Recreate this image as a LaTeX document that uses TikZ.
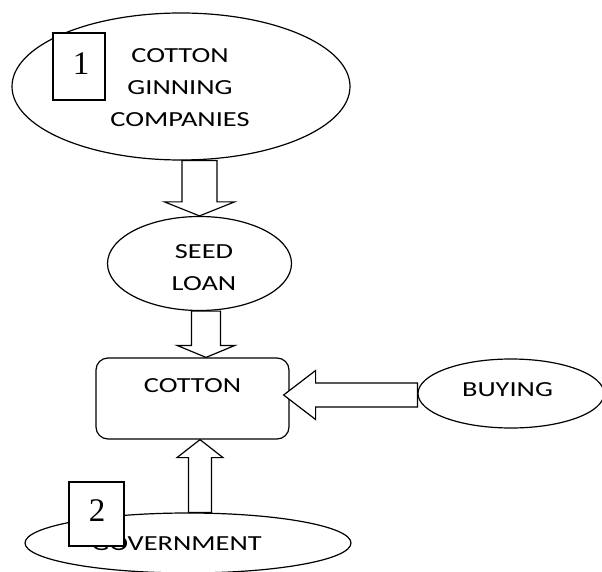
\documentclass[tikz,border=0pt]{standalone}
\usepackage{fontspec}
\setmainfont[FakeStretch=1.32]{Carlito}
\newfontfamily\digitfont{Liberation Serif}
\usetikzlibrary{shapes.geometric,calc}
% block arrow: #1 from, #2 to (tip), #3 shaft half width, #4 head half width, #5 head length
\newcommand{\blkarrow}[5]{%
  \coordinate (bah) at ($(#2)!#5!(#1)$);
  \draw[blk] ($(#1)!#3!90:(#2)$) -- ($(bah)!#3!90:(#2)$) -- ($(bah)!#4!90:(#2)$) -- (#2)
    -- ($(bah)!#4!-90:(#2)$) -- ($(bah)!#3!-90:(#2)$) -- ($(#1)!#3!-90:(#2)$) -- cycle;}
\begin{document}
\begin{tikzpicture}[x=1pt,y=-1pt, line width=1.2pt,
  oval/.style={draw, ellipse, inner sep=0pt},
  lbl/.style={inner sep=0pt, align=center, font=\fontsize{21.5}{32}\selectfont},
  numbox/.style={draw, fill=white, rectangle, inner sep=0pt},
  digit/.style={inner sep=0pt, font=\digitfont\fontsize{33}{33}\selectfont},
  blk/.style={draw, fill=white, line join=miter}]
\useasboundingbox (0,0) rectangle (602,572);

\node[oval, minimum width=338pt, minimum height=147pt] (ginners) at (181,86.5) {};
\node[lbl] (ginnerst) at (180,88) {COTTON\\GINNING\\COMPANIES};
\node[numbox, minimum width=52pt, minimum height=67pt] (box1) at (79,66.5) {};
\node[digit] (d1) at (81,64) {1};

\node[oval, minimum width=184pt, minimum height=94pt] (seed) at (199.5,263.5) {};
\node[lbl] (seedt) at (204,267.5) {SEED\\LOAN};

\node[draw, rounded corners=12pt, minimum width=193pt, minimum height=81pt] (cotton) at (192.5,398.5) {};
\node[lbl] (cottont) at (192.5,385.5) {COTTON};

\node[oval, minimum width=186pt, minimum height=69pt] (buying) at (511,393.5) {};
\node[lbl] (buyingt) at (507.5,390) {BUYING};

\node[oval, minimum width=326pt, minimum height=60pt] (gov) at (188,543) {};
\node[lbl] (govt) at (176.5,544) {GOVERNMENT};
\node[numbox, minimum width=55pt, minimum height=64pt] (box2) at (96.5,514) {};
\node[digit] (d2) at (97,510.5) {2};

% arrows
\coordinate (a1s) at (seed.north |- ginners.south);
\blkarrow{a1s}{seed.north}{17.5pt}{35pt}{14pt}

\coordinate (a2s) at ($(seed.south)+(6.5,0)$);
\coordinate (a2e) at ($(seed.south |- cotton.north)+(6.5,0)$);
\blkarrow{a2s}{a2e}{14.5pt}{29pt}{12pt}

\coordinate (a3s) at ($(buying.west)+(0,1.5)$);
\coordinate (a3e) at ($(cotton.east |- buying.west)+(-6,1.5)$);
\blkarrow{a3s}{a3e}{12pt}{24.5pt}{32pt}

\coordinate (a4e) at ($(cotton.south)+(7.5,0)$);
\coordinate (a4s) at (a4e |- gov.north);
\blkarrow{a4s}{a4e}{11.5pt}{23pt}{18pt}
\end{tikzpicture}
\end{document}
